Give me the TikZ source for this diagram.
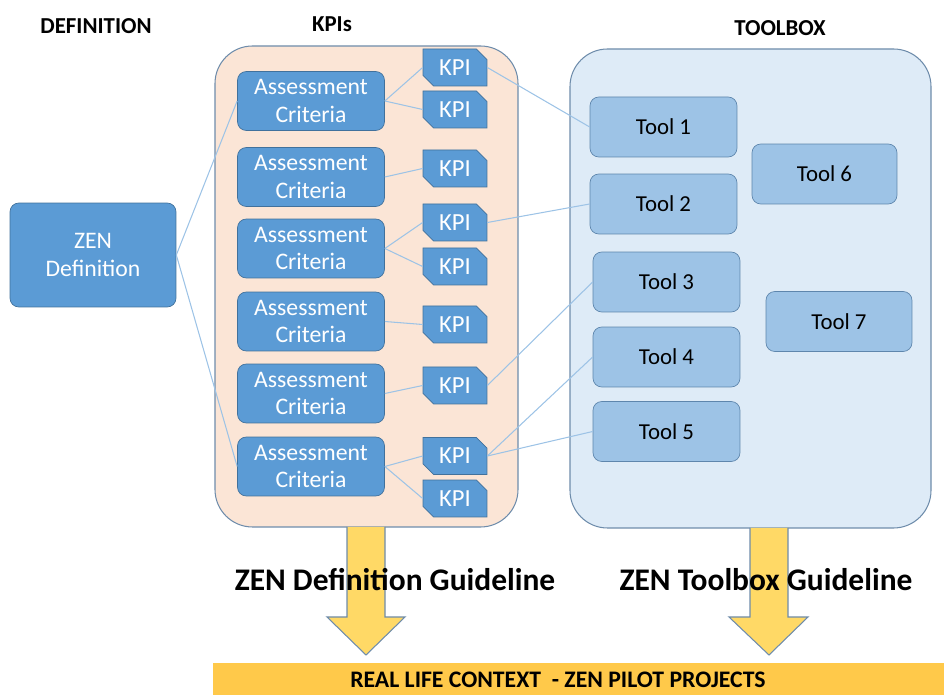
\documentclass[tikz,border=0pt]{standalone}
\usepackage{fontspec}
\setmainfont{Carlito}
\usetikzlibrary{shapes.misc,positioning}

\definecolor{nodeblue}{HTML}{5B9BD5}
\definecolor{nodeedge}{HTML}{41719C}
\definecolor{toolblue}{HTML}{9DC3E6}
\definecolor{tooledge}{HTML}{5E86AD}
\definecolor{kpiback}{HTML}{FBE5D6}
\definecolor{toolback}{HTML}{DEEBF7}
\definecolor{boxedge}{HTML}{6E8CAB}
\definecolor{linkblue}{HTML}{9DC3E6}
\definecolor{arrowfill}{HTML}{FFD966}
\definecolor{barfill}{HTML}{FFC94A}

\begin{document}
\begin{tikzpicture}[
    x=0.02cm, y=-0.02cm,
    crit/.style={rectangle, rounded corners=5pt, draw=nodeedge, fill=nodeblue, text=white, minimum width=2.94cm, minimum height=1.18cm, inner sep=0pt, align=center, font=\fontsize{13.5}{15.5}\selectfont},
    kpi/.style={chamfered rectangle, chamfered rectangle corners={north east,south west}, chamfered rectangle sep=3pt, draw=nodeedge, fill=nodeblue, text=white, minimum width=1.28cm, minimum height=0.74cm, inner sep=0pt, font=\fontsize{14}{15.5}\selectfont},
    tool/.style={rectangle, rounded corners=5pt, draw=tooledge, fill=toolblue, minimum width=2.94cm, minimum height=1.2cm, inner sep=0pt, font=\fontsize{13}{15.5}\selectfont},
    heading/.style={font=\bfseries\fontsize{13}{15}\selectfont},
    guide/.style={font=\bfseries\fontsize{17.9}{20}\selectfont},
    container/.style={rounded corners=0.75cm, draw=boxedge, line width=0.6pt},
    link/.style={draw=linkblue, line width=0.6pt},
    blockarrow/.style={fill=arrowfill, draw=boxedge, line width=0.6pt}
]
    \useasboundingbox (0,0) rectangle (944,695);

    % Headings
    \node[heading] (hdef) at (96,26) {DEFINITION};
    \node[heading] (hkpi) at (332,24) {KPIs};
    \node[heading] (htool) at (780,28) {TOOLBOX};

    % Containers
    \draw[container, fill=kpiback] (215,46) rectangle (518,527);
    \draw[container, fill=toolback] (570,49) rectangle (931,528);

    % Definition
    \node[crit, minimum width=3.32cm, minimum height=2.08cm] (zen) at (93,255) {ZEN\\Definition};

    % Assessment criteria
    \foreach \i/\y in {1/101, 2/177, 3/248.5, 4/321.5, 5/393.5, 6/466.5}
        \node[crit] (ac\i) at (311,\y) {Assessment\\Criteria};

    % KPIs
    \foreach \i/\y in {1/67.5, 2/109.5, 3/168.5, 4/222.5, 5/266.5, 6/324.5, 7/385.5, 8/456, 9/498.5}
        \node[kpi] (kpi\i) at (455,\y) {KPI};

    % Tools
    \node[tool] (tool1) at (663.5,127) {Tool 1};
    \node[tool] (tool2) at (663.5,204) {Tool 2};
    \node[tool] (tool3) at (666.5,282) {Tool 3};
    \node[tool] (tool4) at (666.5,357) {Tool 4};
    \node[tool] (tool5) at (666.5,431.5) {Tool 5};
    \node[tool, minimum width=2.9cm] (tool6) at (824.5,174) {Tool 6};
    \node[tool, minimum width=2.92cm] (tool7) at (839,321.5) {Tool 7};

    % Links
    \draw[link] (zen.east) -- (ac1.west);
    \draw[link] (zen.east) -- (ac6.west);
    \draw[link] (ac1.east) -- (kpi1.west);
    \draw[link] (ac1.east) -- (kpi2.west);
    \draw[link] (ac2.east) -- (kpi3.west);
    \draw[link] (ac3.east) -- (kpi4.west);
    \draw[link] (ac3.east) -- (kpi5.west);
    \draw[link] (ac4.east) -- (kpi6.west);
    \draw[link] (ac5.east) -- (kpi7.west);
    \draw[link] (ac6.east) -- (kpi8.west);
    \draw[link] (ac6.east) -- (kpi9.west);
    \draw[link] (kpi1.east) -- (tool1.west);
    \draw[link] (kpi4.east) -- (tool2.west);
    \draw[link] (kpi7.east) -- (tool3.west);
    \draw[link] (kpi8.east) -- (tool4.west);
    \draw[link] (kpi8.east) -- (tool5.west);

    % Block arrows
    \draw[blockarrow] (347,527) -- (347,617) -- (327,617) -- (366,655) -- (405,617) -- (385,617) -- (385,527);
    \draw[blockarrow] (750,528) -- (750,617) -- (729,617) -- (769,655) -- (808,617) -- (788,617) -- (788,528);

    % Guidelines
    \node[guide] (gdef) at (395,580) {ZEN Definition Guideline};
    \node[guide] (gtool) at (766,580) {ZEN Toolbox Guideline};

    % Context bar
    \fill[barfill] (213,663) rectangle (944,695);
    \node[font=\bfseries\fontsize{13.5}{15}\selectfont] (context) at (558,680) {REAL LIFE CONTEXT\ \ - ZEN PILOT PROJECTS};
\end{tikzpicture}
\end{document}
